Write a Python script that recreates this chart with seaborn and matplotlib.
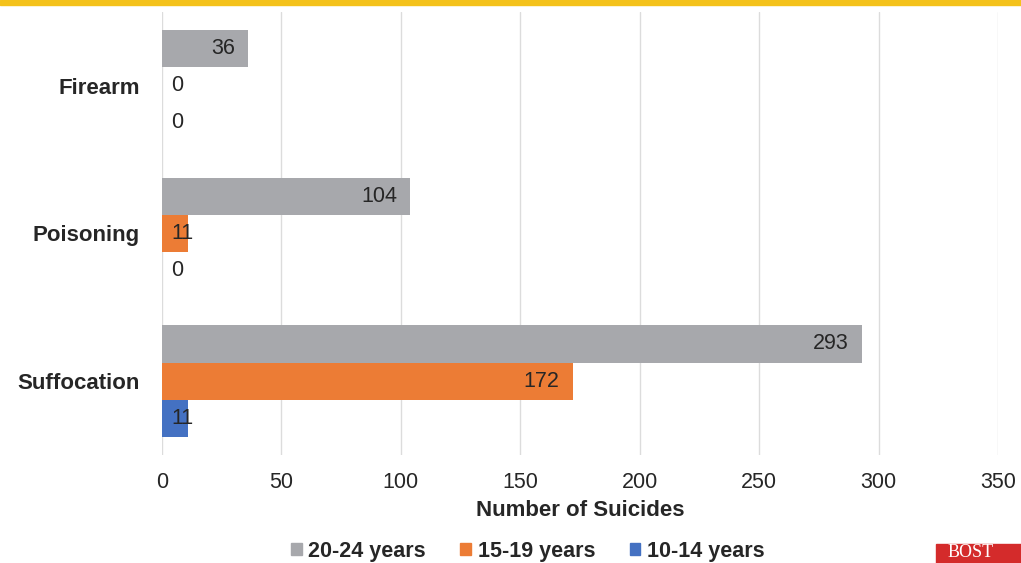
import pandas as pd
import seaborn as sns
import matplotlib.pyplot as plt
from matplotlib.patches import Rectangle

methods = ['Firearm', 'Poisoning', 'Suffocation']
age_groups = ['20-24 years', '15-19 years', '10-14 years']
age_20_24 = [36, 104, 293]
age_15_19 = [0, 11, 172]
age_10_14 = [0, 0, 11]
ticks = [0, 50, 100, 150, 200, 250, 300, 350]
colors = ['#A7A8AC', '#EC7C35', '#4471C2']

df = pd.DataFrame({
    'method': methods * 3,
    'age': [a for a in age_groups for _ in methods],
    'count': age_20_24 + age_15_19 + age_10_14,
})

sns.set_style('white')
plt.rcParams['font.family'] = ['Liberation Sans', 'DejaVu Sans']

fig = plt.figure(figsize=(10.21, 5.63), dpi=100)
ax = fig.add_axes([0.1587, 0.192, 0.8188, 0.7867])

sns.barplot(data=df, x='count', y='method', hue='age', order=methods,
            hue_order=age_groups, palette=colors, orient='h', width=0.755,
            gap=0, saturation=1, linewidth=0, ax=ax, legend=False)

for cont in ax.containers:
    for p in cont:
        w = p.get_width()
        yc = p.get_y() + p.get_height() / 2
        if w >= 30:
            ax.text(w - 5.5, yc, f'{int(w)}', ha='right', va='center',
                    fontsize=15.5, color='#262626')
        else:
            ax.text(4.0, yc, f'{int(w)}', ha='left', va='center',
                    fontsize=15.5, color='#262626')

ax.set_xlim(0, 350)
ax.set_ylim(2.5, -0.5)
ax.set_xticks(ticks)
ax.set_xticklabels([str(t) for t in ticks], fontsize=15.5, color='#262626')
ax.tick_params(axis='x', pad=12, length=0)
ax.tick_params(axis='y', pad=16, length=0)
for lbl in ax.get_yticklabels():
    lbl.set_fontsize(16)
    lbl.set_fontweight('bold')
    lbl.set_color('#262626')
ax.set_ylabel('')
ax.set_xlabel('Number of Suicides', fontsize=16, fontweight='bold',
              color='#262626', labelpad=5)
ax.xaxis.grid(True, color='#DCDCDC', lw=1)
ax.set_axisbelow(True)
for s in ax.spines.values():
    s.set_visible(False)

handles = [Rectangle((0, 0), 1, 1, color=c) for c in colors]
fig.legend(handles, age_groups, loc='center', bbox_to_anchor=(0.517, 0.021),
           ncol=3, frameon=False, prop={'size': 15.5, 'weight': 'bold'},
           handlelength=0.5, handleheight=0.5, handletextpad=0.3,
           columnspacing=1.6)

# yellow band on top and logo corner
fig.patches.append(Rectangle((0, 0.991), 1, 0.009, transform=fig.transFigure,
                             color='#F4C21B', zorder=5))
fig.patches.append(Rectangle((0.917, -0.01), 0.1, 0.044, transform=fig.transFigure,
                             color='#D42B2B', zorder=5))
fig.text(0.928, 0.003, 'BOST', fontsize=13, color='white',
         family='Liberation Serif', va='bottom', zorder=7)

fig.savefig('out.png', dpi=100)
